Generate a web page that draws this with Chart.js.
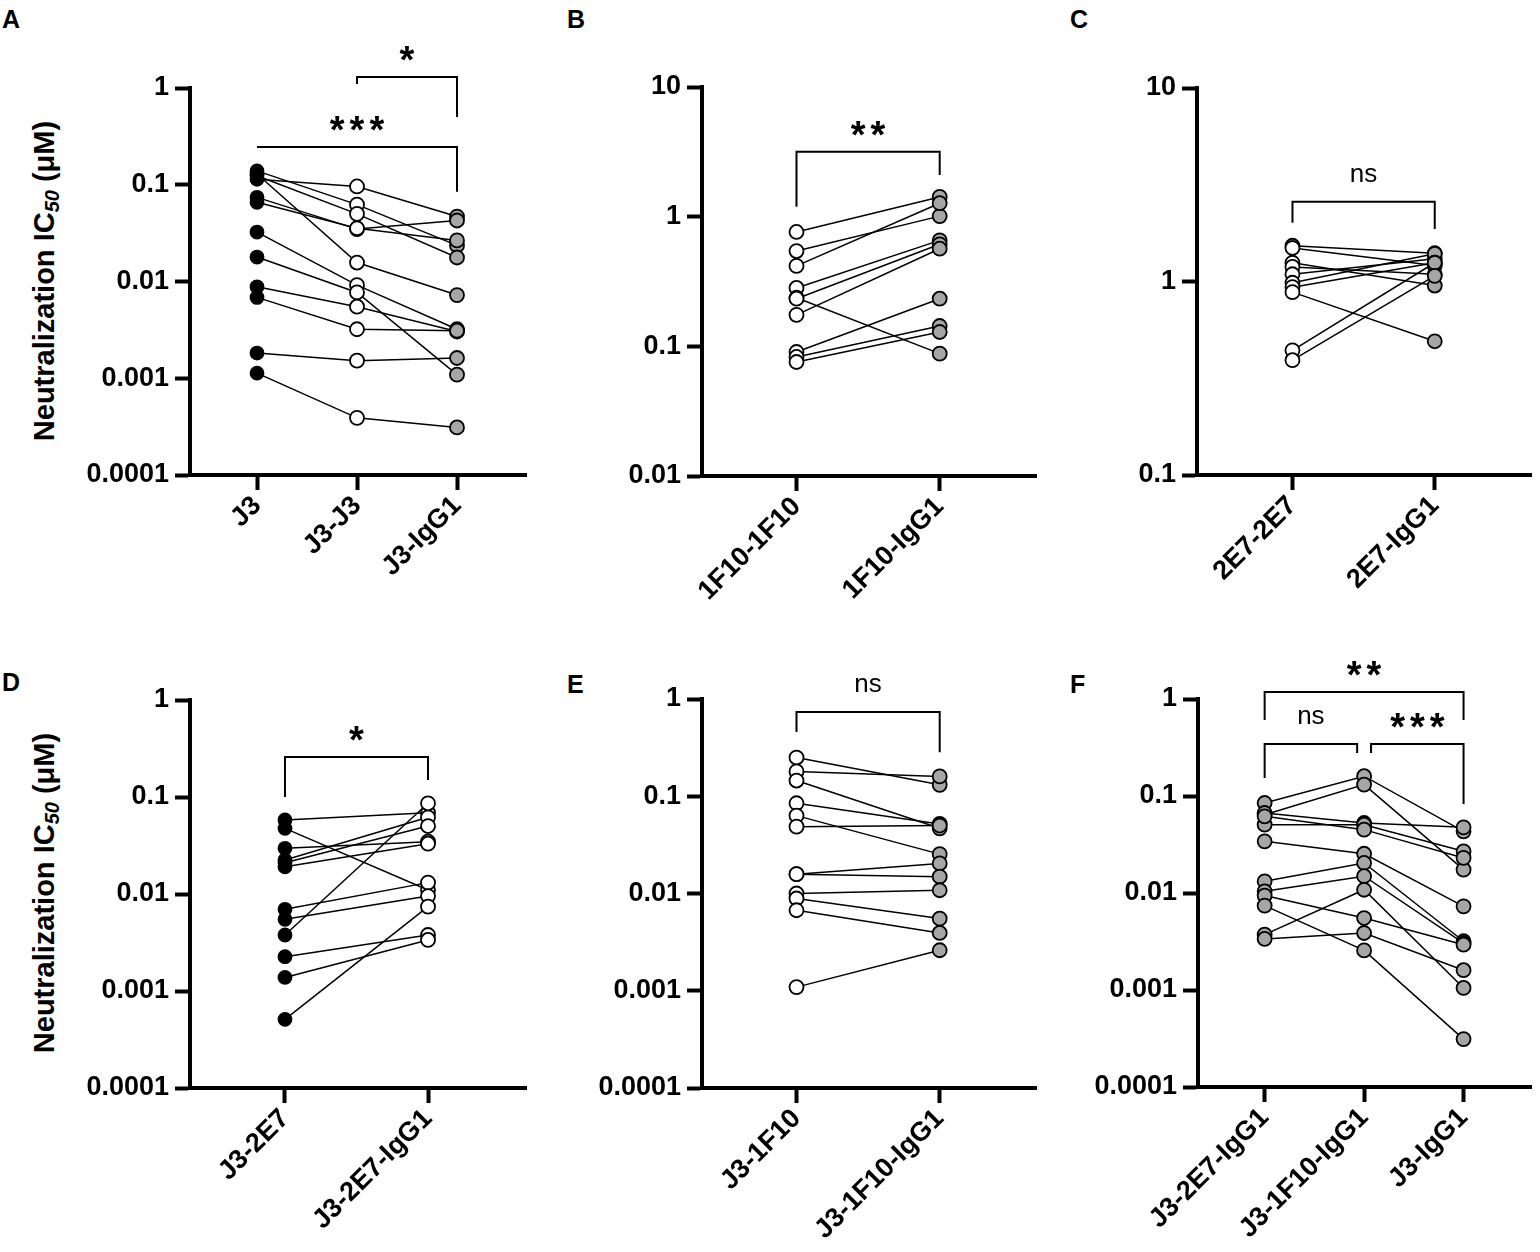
<!DOCTYPE html>
<html>
<head>
<meta charset="utf-8">
<script src="https://cdn.jsdelivr.net/npm/chart.js@4.4.1/dist/chart.umd.min.js"></script>
<style>
  body { margin: 0; background: #fff; width: 1540px; height: 1252px; position: relative; overflow: hidden;
         font-family: "Liberation Sans", Arial, sans-serif; }
  canvas { position: absolute; }
  .letter { position: absolute; font-weight: bold; font-size: 25px; line-height: 25px; }
  .ytitle { position: absolute; font-weight: bold; font-size: 29px; line-height: 32px; white-space: nowrap;
            transform: translate(-50%, -50%) rotate(-90deg); }
  .ytitle sub { font-size: 20px; font-style: italic; vertical-align: -5px; }
</style>
</head>
<body>
<div class="letter" style="left:2px;top:7px">A</div>
<div class="letter" style="left:567px;top:7px">B</div>
<div class="letter" style="left:1070px;top:7px">C</div>
<div class="letter" style="left:2px;top:670px">D</div>
<div class="letter" style="left:567px;top:672px">E</div>
<div class="letter" style="left:1070px;top:672px">F</div>
<div class="ytitle" style="left:48px;top:281px">Neutralization IC<sub>50</sub> (μM)</div>
<div class="ytitle" style="left:48px;top:893px">Neutralization IC<sub>50</sub> (μM)</div>

<canvas id="cA" width="545" height="620" style="left:0;top:0"></canvas>
<canvas id="cB" width="500" height="620" style="left:545px;top:0"></canvas>
<canvas id="cC" width="495" height="620" style="left:1045px;top:0"></canvas>
<canvas id="cD" width="545" height="632" style="left:0;top:620px"></canvas>
<canvas id="cE" width="500" height="632" style="left:545px;top:620px"></canvas>
<canvas id="cF" width="495" height="632" style="left:1045px;top:620px"></canvas>

<script>
// データ (IC50, µM) — 図から読み取り

// A
const groupsA = ['J3', 'J3-J3', 'J3-IgG1'];
const aJ3     = [0.139, 0.124, 0.114, 0.129, 0.0741, 0.0658, 0.0324, 0.0179, 0.00881, 0.00685, 0.00182, 0.00113];
const aJ3J3   = [0.0623, 0.050, 0.096, 0.0157, 0.0348, 0.0355, 0.00917, 0.00771, 0.00549, 0.00321, 0.00152, 0.00039];
const aJ3IgG1 = [0.0236, 0.0177, 0.0469, 0.00724, 0.0427, 0.0266, 0.00321, 0.00109, 0.00304, 0.0031, 0.00162, 0.00031];

// B
const groupsB = ['1F10-1F10', '1F10-IgG1'];
const b1F10   = [0.762, 0.543, 0.417, 0.282, 0.237, 0.233, 0.175, 0.0904, 0.0828, 0.0757];
const bIgG1   = [1.42, 1.01, 1.27, 0.656, 0.0878, 0.612, 0.566, 0.233, 0.1435, 0.129];

// C
const groupsC = ['2E7-2E7', '2E7-IgG1'];
const c2E7    = [1.53, 1.49, 1.25, 1.19, 1.09, 0.985, 0.935, 0.881, 0.441, 0.392];
const cIgG1   = [1.40, 1.21, 0.953, 1.09, 1.31, 1.39, 1.25, 0.491, 1.25, 1.07];

// D
const groupsD = ['J3-2E7', 'J3-2E7-IgG1'];
const dJ32E7  = [0.0579, 0.0475, 0.0296, 0.0224, 0.0210, 0.0191, 0.00695, 0.00548, 0.00378, 0.00226, 0.00138, 0.00051];
const dIgG1   = [0.0689, 0.0110, 0.0346, 0.0617, 0.0502, 0.033, 0.0131, 0.00953, 0.0861, 0.00378, 0.00336, 0.0074];

// E
const groupsE = ['J3-1F10', 'J3-1F10-IgG1'];
const eJ31F10 = [0.250, 0.180, 0.145, 0.0847, 0.0632, 0.0487, 0.0158, 0.0158, 0.0100, 0.00888, 0.00673, 0.00109];
const eIgG1   = [0.131, 0.160, 0.0468, 0.0519, 0.0254, 0.0500, 0.0204, 0.0149, 0.0108, 0.00552, 0.00393, 0.00261];

// F
const groupsF = ['J3-2E7-IgG1', 'J3-1F10-IgG1', 'J3-IgG1'];
const f2E7    = [0.0847, 0.0642, 0.0668, 0.0506, 0.0617, 0.0341, 0.0132, 0.0104, 0.0094, 0.0074, 0.00372, 0.00336];
const f1F10   = [0.160, 0.131, 0.0527, 0.0506, 0.0450, 0.0254, 0.0204, 0.0149, 0.00552, 0.00256, 0.0108, 0.00387];
const fJ3     = [0.0432, 0.0174, 0.0475, 0.0269, 0.0230, 0.00729, 0.00318, 0.00305, 0.00293, 0.000312, 0.00105, 0.00160];

// 目盛り
const ticks4 = [0.0001, 0.001, 0.01, 0.1, 1];
const ticksB = [0.01, 0.1, 1, 10];
const ticksC = [0.1, 1, 10];

const BLACK = '#000', WHITE = '#fff', GRAY = '#a6a6a6';
const FONT = '"Liberation Sans", Arial, sans-serif';

// 有意差の括弧
const sigPlugin = {
  id: 'sig',
  afterDatasetsDraw(chart, args, opts) {
    const ctx = chart.ctx, x = chart.scales.x, y = chart.scales.y;
    ctx.save();
    ctx.strokeStyle = '#000';
    ctx.fillStyle = '#000';
    ctx.lineWidth = 2;
    (opts.items || []).forEach(b => {
      const x1 = x.getPixelForValue(b.from), x2 = x.getPixelForValue(b.to);
      const yy = y.getPixelForValue(b.y);
      ctx.beginPath();
      ctx.moveTo(x1, y.getPixelForValue(b.left));
      ctx.lineTo(x1, yy);
      ctx.lineTo(x2, yy);
      ctx.lineTo(x2, y.getPixelForValue(b.right));
      ctx.stroke();
      const ns = b.text === 'ns';
      ctx.font = ns ? '26px ' + FONT : 'bold 38px ' + FONT;
      ctx.letterSpacing = ns ? '0px' : '5px';
      ctx.textAlign = 'center';
      ctx.textBaseline = 'alphabetic';
      ctx.fillText(b.text, (x1 + x2) / 2 + (ns ? 0 : 2.5), yy - (ns ? 20 : 4));
    });
    ctx.restore();
  }
};

function panel(id, box, groups, series, fills, yMin, yMax, yTicks, xMin, xMax, brackets) {
  const datasets = [];
  const n = series[0].length;
  // 個体ごとの線
  for (let i = 0; i < n; i++) {
    datasets.push({
      data: series.map((s, g) => ({ x: g, y: s[i] })),
      showLine: true,
      borderColor: '#000',
      borderWidth: 1.5,
      pointRadius: 0,
      order: 2
    });
  }
  // 群ごとの点
  series.forEach((s, g) => {
    datasets.push({
      data: s.map(v => ({ x: g, y: v })),
      showLine: false,
      pointRadius: fills[g] === BLACK ? 6.5 : 7,
      pointBorderWidth: 1.8,
      pointBorderColor: '#000',
      pointBackgroundColor: fills[g],
      order: 1
    });
  });

  new Chart(document.getElementById(id), {
    type: 'scatter',
    data: { datasets: datasets },
    plugins: [sigPlugin],
    options: {
      responsive: false,
      animation: false,
      clip: false,
      layout: { padding: { left: 0, top: box.top, right: box.right, bottom: 0 } },
      plugins: {
        legend: { display: false },
        tooltip: { enabled: false },
        sig: { items: brackets }
      },
      scales: {
        x: {
          type: 'linear',
          min: xMin,
          max: xMax,
          afterBuildTicks: s => { s.ticks = groups.map((g, i) => ({ value: i })); },
          afterFit: s => { s.height = box.xh; },
          ticks: {
            callback: v => groups[v],
            minRotation: 45,
            maxRotation: 45,
            padding: 0,
            color: '#000',
            font: { family: FONT, size: 27, weight: 'bold' }
          },
          grid: { drawOnChartArea: false, drawTicks: true, tickLength: 15, tickWidth: 4, tickColor: '#000' },
          border: { display: true, width: 4, color: '#000' }
        },
        y: {
          type: 'logarithmic',
          min: yMin,
          max: yMax,
          afterBuildTicks: s => { s.ticks = yTicks.map(v => ({ value: v })); },
          afterFit: s => { s.width = box.yw; },
          ticks: {
            callback: v => String(v),
            padding: 6,
            color: '#000',
            font: { family: FONT, size: 27, weight: 'bold' }
          },
          grid: { drawOnChartArea: false, drawTicks: true, tickLength: 15, tickWidth: 4, tickColor: '#000' },
          border: { display: true, width: 4, color: '#000' }
        }
      }
    }
  });
}

panel('cA', { top: 88, right: 19, xh: 145, yw: 190 }, groupsA, [aJ3, aJ3J3, aJ3IgG1], [BLACK, WHITE, GRAY],
  0.0001, 1, ticks4, -0.67, 2.69, [
    { from: 1, to: 2, y: 1.30, left: 1.10, right: 0.50, text: '*' },
    { from: 0, to: 2, y: 0.246, left: 0.246, right: 0.0846, text: '***' }
  ]);

panel('cB', { top: 87, right: 7, xh: 144, yw: 157 }, groupsB, [b1F10, bIgG1], [WHITE, GRAY],
  0.01, 10, ticksB, -0.66, 1.674, [
    { from: 0, to: 1, y: 3.16, left: 1.19, right: 2.10, text: '**' }
  ]);

panel('cC', { top: 88, right: 7, xh: 145, yw: 152 }, groupsC, [c2E7, cIgG1], [WHITE, GRAY],
  0.1, 10, ticksC, -0.671, 1.678, [
    { from: 0, to: 1, y: 2.58, left: 2.01, right: 1.87, text: 'ns' }
  ]);

panel('cD', { top: 80, right: 19, xh: 164, yw: 190 }, groupsD, [dJ32E7, dIgG1], [BLACK, WHITE],
  0.0001, 1, ticks4, -0.664, 1.685, [
    { from: 0, to: 1, y: 0.258, left: 0.10, right: 0.150, text: '*' }
  ]);

panel('cE', { top: 79, right: 7, xh: 164, yw: 157 }, groupsE, [eJ31F10, eIgG1], [WHITE, GRAY],
  0.0001, 1, ticks4, -0.66, 1.674, [
    { from: 0, to: 1, y: 0.735, left: 0.457, right: 0.284, text: 'ns' }
  ]);

panel('cF', { top: 79, right: 7, xh: 165, yw: 153 }, groupsF, [f2E7, f1F10, fJ3], [GRAY, GRAY, GRAY],
  0.0001, 1, ticks4, -0.67, 2.68, [
    { from: 0, to: 2, y: 1.18, left: 0.608, right: 0.608, text: '**' },
    { from: 0, to: 0.93, y: 0.344, left: 0.153, right: 0.277, text: 'ns' },
    { from: 1.07, to: 2, y: 0.344, left: 0.277, right: 0.0827, text: '***' }
  ]);
</script>
</body>
</html>
